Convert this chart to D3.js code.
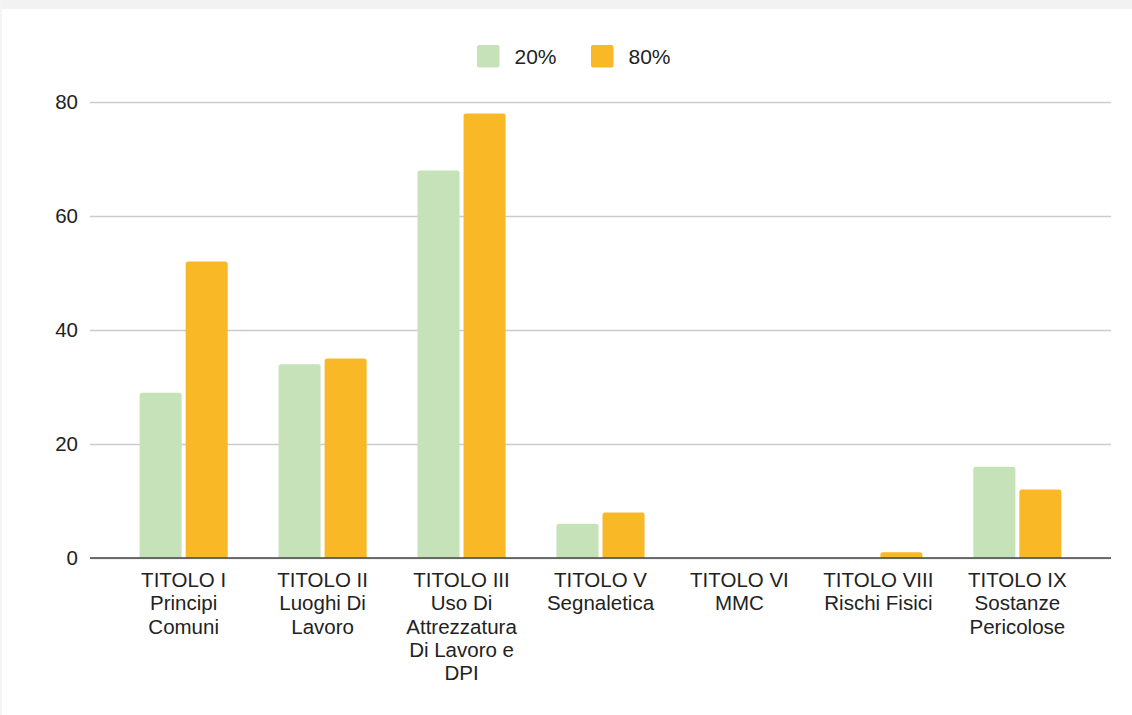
<!DOCTYPE html>
<html>
<head>
<meta charset="utf-8">
<script src="https://cdn.jsdelivr.net/npm/d3@7"></script>
<style>
  html, body { margin: 0; padding: 0; background: #fff; }
  svg { display: block; font-family: "Liberation Sans", Arial, sans-serif; }
</style>
</head>
<body>
<svg id="chart" width="1132" height="715"></svg>
<script>
const categories = [
  "TITOLO I\nPrincipi\nComuni",
  "TITOLO II\nLuoghi Di\nLavoro",
  "TITOLO III\nUso Di\nAttrezzatura\nDi Lavoro e\nDPI",
  "TITOLO V\nSegnaletica",
  "TITOLO VI\nMMC",
  "TITOLO VIII\nRischi Fisici",
  "TITOLO IX\nSostanze\nPericolose"
];
const seriesNames = ["20%", "80%"];
const values20 = [29, 34, 68, 6, 0, 0, 16];
const values80 = [52, 35, 78, 8, 0, 1, 12];
const yTicks = [0, 20, 40, 60, 80];
const colors = ["#c6e2b9", "#f9b826"];

(function () {
const svg = d3.select("#chart");

// faint frame strips from the original screenshot
svg.append("rect").attr("x", 0).attr("y", 0).attr("width", 1132).attr("height", 9).attr("fill", "#f2f2f2");
svg.append("rect").attr("x", 0).attr("y", 0).attr("width", 2).attr("height", 715).attr("fill", "#f4f4f4");

const pLeft = 90, pRight = 1111, pTop = 102, pBottom = 558;

const y = d3.scaleLinear().domain([0, 80]).range([pBottom, pTop]);
const x0 = d3.scaleBand().domain(categories).range([pLeft, pRight]).paddingInner(0.366).paddingOuter(0.357);
const x1 = d3.scaleBand().domain(seriesNames).range([0, x0.bandwidth()]).paddingInner(0.087);

// gridlines
const yAxis = d3.axisLeft(y).tickValues(yTicks).tickSize(-(pRight - pLeft)).tickPadding(12);
const gy = svg.append("g").attr("transform", `translate(${pLeft},0)`).call(yAxis);
gy.select(".domain").remove();
gy.selectAll(".tick line").attr("stroke", "#cccccc").attr("stroke-width", 1.3);
gy.selectAll(".tick text").attr("font-size", 20.5).attr("fill", "#222").attr("font-family", "Liberation Sans, Arial, sans-serif").attr("x", -12);

// bars
const data = categories.map((c, i) => ({ cat: c, vals: [values20[i], values80[i]] }));
function barPath(x, w, y0, y1, r) {
  const h = y0 - y1;
  if (h <= 0) return "";
  r = Math.min(r, h, w / 2);
  return `M${x},${y0}V${y1 + r}Q${x},${y1} ${x + r},${y1}H${x + w - r}Q${x + w},${y1} ${x + w},${y1 + r}V${y0}Z`;
}
const groups = svg.append("g").selectAll("g").data(data).join("g")
  .attr("transform", d => `translate(${x0(d.cat)},0)`);
groups.selectAll("path").data(d => d.vals.map((v, j) => ({ v, s: seriesNames[j], j }))).join("path")
  .attr("d", d => barPath(x1(d.s), x1.bandwidth(), y(0), y(d.v), 2.5))
  .attr("fill", d => colors[d.j]);

// baseline axis
svg.append("line").attr("x1", pLeft).attr("x2", pRight).attr("y1", y(0)).attr("y2", y(0))
  .attr("stroke", "#444").attr("stroke-width", 1.6);

// category labels
const labels = svg.append("g").selectAll("text").data(categories).join("text")
  .attr("x", d => x0(d) + x0.bandwidth() / 2)
  .attr("y", 587)
  .attr("text-anchor", "middle")
  .attr("font-size", 20.5)
  .attr("fill", "#222");
labels.each(function (d) {
  const t = d3.select(this);
  d.split("\n").forEach((line, i) => {
    t.append("tspan").attr("x", x0(d) + x0.bandwidth() / 2).attr("dy", i === 0 ? 0 : 23.3).text(line);
  });
});

// legend
const legendItems = [
  { name: seriesNames[0], color: colors[0], x: 477 },
  { name: seriesNames[1], color: colors[1], x: 591 }
];
const lg = svg.append("g").selectAll("g").data(legendItems).join("g");
lg.append("rect").attr("x", d => d.x).attr("y", 45).attr("width", 22.5).attr("height", 22.5)
  .attr("rx", 2).attr("fill", d => d.color);
lg.append("text").attr("x", d => d.x + 37.5).attr("y", 63.5).attr("font-size", 21).attr("fill", "#222")
  .text(d => d.name);
})();
</script>
</body>
</html>
